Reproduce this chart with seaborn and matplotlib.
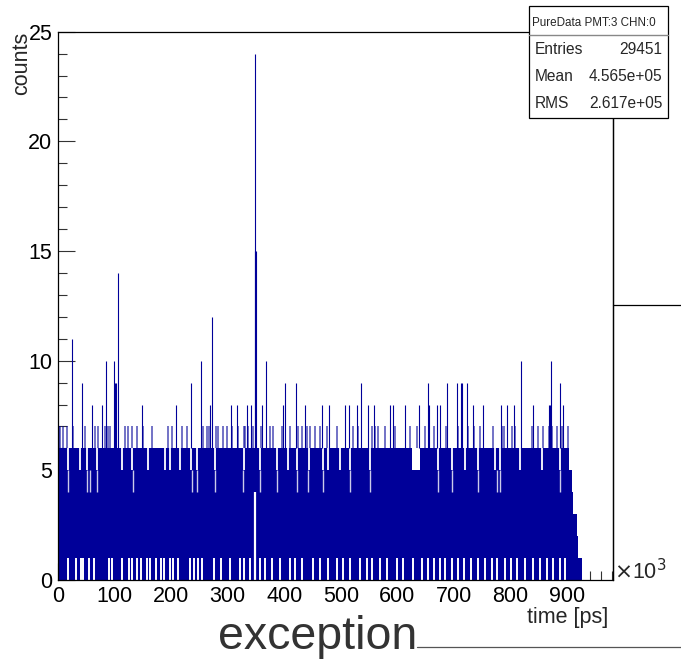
import matplotlib
matplotlib.use("Agg")
import matplotlib.pyplot as plt
from matplotlib.patches import Rectangle
from matplotlib.lines import Line2D
import numpy as np
import pandas as pd
import seaborn as sns

# ---------------- data (time in units of 10^3 ps) ----------------
# solid band envelope: edges and top count of each segment
seg_edges = [0, 625, 640, 904, 908, 911, 918, 920, 926]
seg_top = [6, 5, 6, 5, 4, 3, 2, 1]

# bins whose count never dropped to 0 (white gaps in the 0-1 row)
gap0_x = [18, 31, 41, 45, 55, 64, 90, 95, 113, 126, 130, 139, 147, 157, 163,
          174, 182, 188, 198, 204, 212, 233, 241, 248, 255, 275, 289, 304,
          322, 328, 339, 357, 366, 378, 392, 410, 419, 431, 451, 463, 478,
          493, 504, 516, 534, 546, 555, 569, 581, 599, 610, 628, 643, 655,
          664, 675, 685, 696, 708, 718, 731, 743, 755, 767, 776, 790, 801,
          811, 826, 840, 852, 864, 876, 888, 896]
# places where the band tops out at 5 instead of 6
gap5_x = [18, 39, 51, 69, 113, 130, 160, 189, 198, 215, 236, 245, 277, 328,
          357, 387, 407, 422, 443, 469, 478, 499, 516, 552, 672, 697, 720,
          742, 773, 781, 817, 855, 888]
# places where the band tops out at 4
gap4_x = [18.3, 51.9, 56.6, 68.4, 133.2, 236.3, 245.2, 277.6, 327.7, 357.1,
          386.6, 422.1, 442.6, 469.1, 516.2, 551.6, 672.4, 697.2, 742, 775.6,
          781.5, 887.5]
# deep dip at the main peak
dip_x = [349]
dip_top = [4]

# bins reaching 7 counts
l7_x = [1, 3.5, 9.4, 15.3, 27, 47.7, 65.4, 71.3, 83, 89, 92, 118.5, 124.4,
        131.4, 139, 151, 165.6, 195, 201, 220, 227.5, 257, 263, 267, 278.8,
        283.5, 292.3, 298, 307, 317.6, 329.4, 330.6, 336.5, 345.3, 358.3,
        374.8, 379.5, 395.4, 410.2, 424.9, 430.8, 439.6, 445.5, 454.3,
        463.2, 475, 492.7, 522.1, 531, 554.6, 560.5, 566.4, 578.2, 595.8,
        622.4, 634.2, 648.9, 665.4, 685.4, 707.8, 725.5, 736.1, 746.1,
        769.7, 784.4, 789.1, 802.1, 808, 837.4, 849.2, 858.1, 868.1, 872.8,
        881.7, 890.5, 902.3]

# taller spikes (>= 8 counts)
spike_x = [24.2, 41.9, 59.6, 77.3, 84.3, 98.5, 101, 102.5, 106.6, 148, 208,
           235, 252, 269, 273, 305, 316, 334, 341, 347.5, 349, 350.5, 361,
           368, 398, 402, 420, 436, 466, 479, 507, 514, 528, 536, 548, 559,
           587, 593, 614, 639, 654, 656, 670, 676, 688, 705, 712.5, 713.5,
           723, 734, 751, 784, 794, 807, 819, 839, 868, 869.5, 872, 888, 893]
spike_h = [11, 9, 8, 8, 10, 10, 9, 9, 14, 8, 8,
           9, 10, 8, 12, 8, 8, 8, 8, 15, 24, 15, 8,
           10, 8, 9, 9, 8, 8, 8, 8, 8, 8, 9, 8, 8,
           8, 8, 8, 8, 9, 8, 8, 8, 9, 9, 9, 9,
           9, 8, 8, 8, 8, 8, 10, 8, 8, 8, 10, 9, 8]

x_ticks = [0, 100, 200, 300, 400, 500, 600, 700, 800, 900]
y_ticks = [0, 5, 10, 15, 20, 25]

stats_title = "PureData PMT:3 CHN:0"
stats_rows = [("Entries", "29451"), ("Mean", "4.565e+05"), ("RMS", "2.617e+05")]

# ---------------- style ----------------
sns.set_theme(style="ticks")
plt.rcParams["font.family"] = ["Liberation Sans", "DejaVu Sans"]
BLUE = "#000099"
W, H = 681, 660

fig = plt.figure(figsize=(W / 100, H / 100), dpi=100)
fig.patch.set_facecolor("white")


def fx(px):
    return px / W


def fy(py):
    return 1 - py / H


ax = fig.add_axes([fx(58), fy(580), fx(612.7) - fx(58), fy(31.7) - fy(580)])
ax.set_facecolor("white")

# ---------------- histogram band ----------------
centers = [(a + b) / 2 for a, b in zip(seg_edges[:-1], seg_edges[1:])]
df = pd.DataFrame({"t": centers, "n": seg_top})
sns.histplot(data=df, x="t", weights="n", bins=list(seg_edges), element="bars",
             fill=True, color=BLUE, alpha=1, linewidth=0, ax=ax, zorder=2)

ax.vlines(gap5_x, 5, 6, color="white", lw=1.3, zorder=3)
ax.vlines(gap4_x, 4, 5, color="white", lw=1.0, alpha=0.8, zorder=3)
ax.vlines(gap0_x, 0, 1, color="white", lw=1.4, zorder=3)
ax.vlines(dip_x, 0, dip_top, color="white", lw=1.6, zorder=3)
ax.vlines(l7_x, 6, 7, color=BLUE, lw=1.1, alpha=0.7, zorder=4)
ax.vlines(spike_x, 6, spike_h, color=BLUE, lw=0.8, zorder=4)

# ---------------- axes ----------------
ax.set_xlim(0, 980.7)
ax.set_ylim(0, 25)
ax.set_xticks(x_ticks)
ax.set_xticklabels([str(v) for v in x_ticks])
ax.set_xticks(np.arange(0, 981, 20), minor=True)
ax.set_yticks(y_ticks)
ax.set_yticklabels([str(v) for v in y_ticks])
ax.set_yticks(np.arange(0, 26, 1), minor=True)
ax.tick_params(which="major", direction="in", length=12, width=0.8,
               color="#333333", labelsize=15.5, labelcolor="black", pad=4,
               top=False, right=False)
ax.tick_params(which="minor", direction="in", length=6.3, width=0.8,
               color="#333333", top=False, right=False)
for s in ax.spines.values():
    s.set_color("black")
    s.set_linewidth(0.9)
    s.set_zorder(6)
ax.set_xlabel("")
ax.set_ylabel("")

fig.text(fx(608), fy(618), "time [ps]", ha="right", va="center", fontsize=15.5)
fig.text(fx(11), fy(32), "counts", ha="left", va="top", rotation=90, fontsize=15.5)
fig.text(fx(614), fy(572), r"$\times$10$^{3}$", ha="left", va="center", fontsize=15.5)

# ---------------- stats box ----------------
fig.add_artist(Rectangle((fx(529.3), fy(117.7)), fx(667.7) - fx(529.3),
                         fy(6) - fy(117.7), transform=fig.transFigure,
                         facecolor="white", edgecolor="black", lw=0.9, zorder=10))
fig.add_artist(Line2D([fx(529.3), fx(667.7)], [fy(35), fy(35)],
                      transform=fig.transFigure, color="#888888", lw=1.0, zorder=11))
fig.text(fx(532), fy(23.3), stats_title, ha="left", va="center", fontsize=8.4, zorder=12)
for i, (k, v) in enumerate(stats_rows):
    yy = fy(50 + i * 26.9)
    fig.text(fx(535), yy, k, ha="left", va="center", fontsize=11.2, zorder=12)
    fig.text(fx(662.5), yy, v, ha="right", va="center", fontsize=11.2, zorder=12)

# ---------------- extra canvas lines ----------------
fig.add_artist(Line2D([fx(612.7), fx(612.7)], [fy(117.7), fy(580)],
                      transform=fig.transFigure, color="black", lw=0.9, zorder=9))
fig.add_artist(Line2D([fx(612.7), fx(681)], [fy(304.5), fy(304.5)],
                      transform=fig.transFigure, color="black", lw=0.9, zorder=9))
fig.add_artist(Line2D([fx(417), fx(681)], [fy(647.3), fy(647.3)],
                      transform=fig.transFigure, color="#555555", lw=0.9, zorder=9))

fig.text(fx(318), fy(649), "exception", ha="center", va="baseline",
         fontsize=33.5, color="#333333", zorder=12)

fig.savefig("out.png", dpi=100)
